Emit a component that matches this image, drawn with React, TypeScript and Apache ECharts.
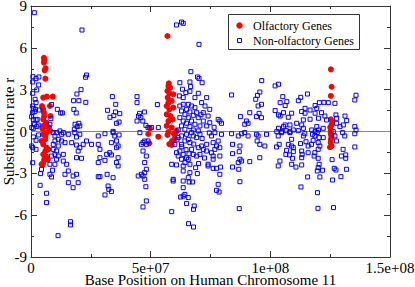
import React, { useEffect, useRef } from "react";
import * as echarts from "echarts";

// Base position in megabases (Mb), substitution rate r
const olfactoryGenes: [number, number][] = [
  [5.4, 5.29], [5.5, 5.13], [5.4, 4.94], [6.1, 4.53], [5.7, 4.39], [6.0, 3.79],
  [5.1, 2.43], [6.6, 2.5], [9.1, 2.5], [4.6, 1.83], [5.1, 1.59], [5.4, 1.35],
  [7.9, 1.83], [8.2, 1.11], [5.1, 0.87], [6.3, 0.63], [5.1, 0.4], [6.5, 0.35],
  [7.5, 0.3], [5.1, -0.2], [6.0, -0.32], [6.5, -0.09], [4.4, -0.68], [6.0, -0.56],
  [5.1, -0.92], [6.5, -1.16], [7.2, -1.28], [6.0, -1.4], [5.1, -1.64], [6.0, -1.88],
  [5.1, -2.24], [4.4, -2.35], [4.9, -2.4], [6.5, -1.81], [5.5, -2.0], [7.0, -2.0],
  [8.0, 0.05], [5.5, 1.1], [4.8, 0.2],
  [57.0, 6.85], [57.6, 3.46], [57.4, 3.26], [58.1, 3.14], [57.0, 2.91], [57.8, 2.74],
  [59.5, 2.67], [57.1, 2.43], [58.8, 2.19], [57.4, 2.07], [56.7, 1.83], [57.8, 1.59],
  [59.5, 1.71], [56.7, 1.23], [58.3, 1.11], [57.4, 0.75], [59.2, 0.87], [56.7, 0.4],
  [58.8, 0.28], [60.8, 0.04], [53.2, -0.37], [49.7, 0.23], [49.0, -0.18], [49.4, -0.85],
  [57.8, -0.9], [60.5, -0.08], [60.1, -0.49], [57.0, -0.25], [57.4, -0.04], [59.7, -0.16],
  [58.9, -0.68], [58.8, -0.97],
  [125.3, 4.46], [125.6, 3.21], [125.3, 2.55], [125.3, 0.88], [125.8, 0.71], [125.6, 0.47],
  [125.3, 0.06], [125.2, -0.13], [125.6, -0.37], [125.3, -0.56], [124.9, -1.13], [125.6, -1.04],
  [125.2, -0.8], [125.0, 0.3], [125.4, -0.25],
];

const nonOlfactoryGenes: [number, number][] = [
  // 0 - 50 Mb, upper half
  [1.4, 8.52], [21.3, 7.28], [23.2, 4.05], [22.8, 3.89], [0.8, 3.93], [2.1, 3.79],
  [3.3, 3.91], [0.7, 3.55], [3.2, 3.34], [2.4, 2.98], [0.7, 2.74], [20.9, 3.0],
  [19.2, 2.69], [34.0, 2.5], [44.3, 2.5], [17.8, 2.21], [20.0, 2.21], [22.9, 2.09],
  [35.4, 1.95], [44.3, 2.07], [1.7, 2.31], [2.1, 2.07], [8.6, 1.93], [17.9, 1.59],
  [18.9, 1.33], [11.0, 1.59], [12.4, 1.33], [13.1, 1.33], [32.0, 1.52], [35.3, 1.4],
  [33.0, 1.02], [34.6, 1.14], [37.1, 1.28], [35.7, 0.59], [36.8, 0.68], [47.4, 1.4],
  [45.4, 1.3], [44.9, 1.11], [45.9, 0.99], [44.3, 0.75], [46.7, 0.75], [0.7, 1.83],
  [0.6, 1.35], [1.9, 1.59], [1.0, 0.87], [2.6, 0.87], [1.5, 0.52], [0.3, 0.28],
  [2.4, 0.35], [18.4, 0.52], [20.0, 0.59], [19.3, 0.35], [20.4, 0.4], [18.1, 0.16],
  [8.3, 0.92], [7.9, 0.52], [12.1, 0.04], [34.3, 0.01], [48.0, 0.44], [48.9, 0.28],
  [0.95, 1.66], [1.6, 1.42], [3.4, 1.54], [0.25, 1.06], [2.1, 0.83], [3.0, 0.47], [0.95, 0.23],
  // 0 - 50 Mb, lower half
  [1.0, -0.39], [3.1, -0.25], [2.1, -0.63], [0.3, -1.04], [0.7, -1.16], [2.1, -1.28],
  [0.7, -2.24], [4.4, -2.71], [4.0, -3.02], [7.9, -3.07], [8.6, -3.26], [9.0, -2.78],
  [3.8, -3.86], [6.5, -4.43], [6.5, -5.1], [16.5, -6.47], [16.5, -6.7], [11.3, -7.47],
  [9.3, -0.08], [10.0, -0.32], [10.7, -0.08], [12.8, -0.2], [13.5, -0.08], [11.4, -0.56],
  [10.0, -0.68], [12.8, -0.68], [14.2, -0.8], [9.3, -0.92], [11.4, -1.04], [9.3, -1.28],
  [10.7, -1.4], [10.0, -1.64], [8.6, -1.76], [11.4, -1.76], [13.5, -1.64], [10.7, -1.99],
  [10.0, -2.35], [7.9, -2.35], [14.9, -2.35], [13.5, -2.12], [15.6, -2.83], [14.2, -3.07],
  [17.6, -3.19], [19.0, -3.07], [19.7, -3.67], [17.6, -4.03], [15.6, -3.67], [18.3, -0.08],
  [15.6, -0.2], [19.0, -0.39], [20.4, -0.2], [17.0, -0.8], [19.0, -0.97], [21.8, -0.92],
  [20.4, -1.16], [19.7, -1.4], [19.0, -1.88], [21.1, -1.92], [23.2, -0.68], [25.3, -0.92],
  [28.1, -0.92], [28.1, -0.32], [30.9, -0.16], [28.8, -1.28], [31.6, -1.64], [33.6, -1.68],
  [32.9, -1.52], [28.8, -1.88], [28.1, -2.23], [30.9, -2.07], [36.4, -1.88], [35.7, -2.23],
  [36.4, -2.47], [28.1, -3.24], [28.8, -3.24], [31.8, -3.07], [34.3, -3.31], [32.2, -3.91],
  [32.5, -4.15], [33.6, -4.31], [30.9, -4.55], [35.7, -1.16], [33.6, -0.8], [35.0, -0.32],
  [36.8, -0.25], [34.3, -0.08], [35.7, -0.68], [36.4, -1.04], [45.5, -0.08], [46.8, -0.8],
  [48.2, -0.92], [47.5, -0.68], [46.1, -0.92], [48.9, -0.68], [46.8, -1.4], [48.2, -1.76],
  [47.5, -2.23], [48.2, -2.71], [47.5, -2.95], [46.8, -3.19], [47.5, -3.43], [44.8, -3.19],
  [46.1, -3.07], [48.2, -4.98], [46.8, -5.41], [48.0, -3.96],
  // 50 - 100 Mb, upper half
  [60.8, 7.64], [62.9, 7.85], [63.6, 7.76], [70.2, 6.25], [66.8, 4.29], [69.6, 3.91],
  [70.2, 3.81], [71.5, 3.5], [62.2, 3.5], [66.4, 3.55], [66.7, 3.22], [66.4, 2.88],
  [63.3, 3.03], [64.7, 2.79], [69.9, 2.74], [68.5, 2.43], [73.4, 2.43], [62.0, 2.55],
  [63.6, 2.43], [83.8, 2.62], [95.6, 2.83], [94.6, 2.59], [93.9, 2.31], [96.3, 1.95],
  [94.9, 1.83], [95.3, 1.3], [94.2, 1.07], [96.3, 0.99], [91.4, 1.35], [87.5, 1.07],
  [90.0, 0.75], [89.3, 0.52], [90.7, 0.59], [78.2, 0.87], [79.6, 0.59], [78.9, 0.75],
  [74.7, 1.59], [74.0, 1.11], [72.0, 1.35], [72.7, 1.83], [71.3, 2.07], [52.8, 1.93],
  [50.4, 0.28], [53.2, 0.28], [96.4, 3.65],
  [62.2, 1.83], [63.6, 1.95], [65.7, 1.95], [67.1, 1.83], [68.5, 1.71], [65.0, 1.59],
  [62.9, 1.47], [66.4, 1.4], [69.2, 1.35], [64.3, 1.23], [67.8, 1.16], [65.7, 0.99],
  [62.2, 0.99], [69.9, 0.99], [63.6, 0.75], [67.1, 0.75], [65.0, 0.59], [68.5, 0.52],
  [62.9, 0.4], [66.4, 0.35], [70.6, 0.4], [64.3, 0.16], [67.8, 0.11], [61.5, 0.11],
  [69.9, 0.04], [72.0, 0.75], [73.4, 0.4], [74.7, 0.63], [71.0, 1.2], [76.5, 0.3],
  // 50 - 100 Mb, lower half
  [60.8, -1.52], [62.2, -1.4], [61.5, -1.76], [62.9, -1.99], [63.6, -1.64], [65.0, -1.88],
  [64.3, -2.23], [66.4, -2.35], [63.6, -2.47], [60.8, -2.4], [58.8, -2.35], [65.7, -2.0],
  [67.8, -1.64], [67.1, -1.28], [69.2, -1.76], [70.6, -1.64], [69.9, -1.16], [71.3, -1.04],
  [72.0, -1.28], [62.9, -0.92], [64.3, -0.68], [65.7, -0.56], [66.4, -0.8], [67.8, -0.32],
  [69.2, -0.44], [70.6, -0.2], [67.1, -0.08], [65.0, -0.2], [62.9, -0.32], [61.5, -0.44],
  [60.1, -0.92], [63.6, -2.83], [66.4, -2.95], [69.5, -3.02], [65.7, -3.31], [59.4, -3.43],
  [59.4, -3.55], [63.6, -3.55], [66.1, -3.62], [67.5, -3.62], [63.6, -4.03], [64.3, -4.51],
  [62.5, -4.7], [65.7, -4.74], [65.0, -5.17], [68.2, -5.34], [67.9, -5.58], [58.8, -5.75],
  [65.8, -6.61], [67.9, -6.85], [63.6, -4.63],
  [73.4, -0.92], [76.1, -0.8], [78.2, -0.68], [77.5, -1.04], [76.8, -1.28], [78.9, -1.16],
  [73.4, -1.4], [75.4, -1.52], [78.9, -1.76], [76.1, -1.99], [74.0, -2.35], [74.0, -2.47],
  [76.1, -2.64], [77.5, -2.64], [79.2, -2.55], [78.9, -3.07], [76.1, -1.76], [75.4, -0.32],
  [76.8, -0.08], [79.6, -0.2], [78.2, -3.79], [77.5, -4.22], [78.6, -4.34],
  [83.8, -0.16], [84.2, -0.92], [84.2, -1.59], [87.3, -1.04], [87.0, -1.45], [87.3, -1.99],
  [88.0, -2.12], [86.6, -2.23], [84.2, -2.55], [86.8, -2.71], [87.3, -3.6], [87.0, -5.53],
  [86.6, -0.32], [89.3, -0.08], [88.0, -0.16], [90.7, -0.32], [91.4, -2.16], [94.2, -0.2],
  [94.9, -0.32], [94.5, -0.68], [95.6, -0.92], [97.7, -1.04], [95.6, -1.88], [98.4, -0.2],
  [61.0, -0.6], [63.0, -1.1], [64.8, -1.3], [66.0, -1.6], [68.0, -0.9], [70.0, -2.3],
  [72.5, -1.9], [68.8, -2.6], [71.5, -0.5], [74.5, -0.1],
  // 100 - 150 Mb, upper half
  [102.0, 3.27], [103.4, 3.39], [105.2, 2.5], [115.5, 2.69], [112.7, 2.45], [111.7, 2.21],
  [135.8, 2.6], [135.3, 2.26], [106.2, 1.86], [106.9, 2.14], [104.1, 2.07], [102.0, 1.5],
  [103.4, 1.19], [105.5, 1.35], [108.9, 1.31], [107.5, 1.02], [104.1, 1.11], [114.5, 1.66],
  [113.1, 1.43], [114.5, 1.31], [116.6, 1.54], [119.4, 1.66], [118.7, 1.31], [121.4, 1.35],
  [122.8, 1.11], [120.1, 0.95], [123.5, 0.83], [116.6, 0.88], [113.8, 0.83], [111.0, 0.59],
  [113.1, 0.47], [108.2, 0.47], [106.2, 0.47], [105.5, 0.35], [103.4, 0.23], [102.7, -0.01],
  [104.8, -0.01], [106.6, 0.06], [108.2, -0.01], [109.6, 0.11], [111.7, 0.06], [113.8, 0.23],
  [117.3, 0.11], [119.4, 0.35], [120.1, 0.11], [118.7, -0.01], [122.1, 0.23], [127.7, 0.95],
  [127.4, 1.19], [131.2, 1.11], [131.9, 0.78], [130.5, 0.47], [127.7, 0.59], [129.1, 0.35],
  [135.3, 0.35], [135.8, 0.11], [126.3, -0.01], [120.5, 2.07], [122.4, 2.09], [124.2, 2.07],
  [127.0, 2.02], [118.7, 1.86],
  // 100 - 150 Mb, lower half
  [103.3, -0.32], [104.7, -0.08], [102.6, -1.11], [103.7, -0.92], [106.5, -1.64], [108.9, -1.04],
  [109.6, -1.16], [107.5, -0.92], [104.0, -2.12], [103.3, -2.47], [108.9, -2.35], [110.7, -2.55],
  [109.3, -1.92], [113.1, -2.4], [113.1, -1.88], [113.1, -1.4], [113.3, -1.64], [112.6, -0.87],
  [114.9, -0.73], [115.8, -1.04], [117.2, -0.92], [117.9, -0.63], [118.6, -0.32], [119.6, -0.08],
  [120.4, -0.44], [122.1, -0.44], [120.0, -0.8], [120.7, -1.04], [120.0, -1.28], [118.6, -1.52],
  [118.3, -1.76], [120.0, -1.92], [120.4, -2.35], [120.0, -2.59], [121.8, -2.78], [119.6, -2.83],
  [120.7, -3.26], [115.6, -3.26], [112.8, -3.98], [119.7, -4.39], [119.9, -5.51], [126.4, -5.46],
  [126.0, -3.48], [129.5, -3.24], [127.4, -2.76], [126.7, -2.64], [131.8, -2.71], [129.7, -1.76],
  [131.5, -1.68], [131.5, -1.92], [125.8, -2.02], [127.6, -0.68], [127.0, -0.32], [130.4, -1.28],
  [131.1, -0.32], [130.2, -0.08], [135.3, -0.16], [135.3, -1.11], [108.2, -0.08], [108.9, -0.56],
  [113.8, -0.32], [114.4, -0.16], [117.6, -0.2], [109.6, -1.45], [108.0, -1.68], [106.8, -1.35],
  [115.8, -1.52],
];

const seriesNames = ["Olfactory Genes", "Non-olfactory Genes"];
const xAxisTitle = "Base Position on Human Chromosome 11";
const yAxisTitle = "Substitution rate r";
const BASES_PER_MB = 1e6;
const xMin = 0;
const xMax = 1.5e8;
const xInterval = 5e7;
const yMin = -9;
const yMax = 9;
const yInterval = 3;

const FONT = "Liberation Serif";

function formatSci(v: number): string {
  if (v === 0) return "0";
  const exp = Math.floor(Math.log10(Math.abs(v)) + 1e-9);
  const mant = Math.round((v / Math.pow(10, exp)) * 100) / 100;
  const e = String(Math.abs(exp)).padStart(2, "0");
  return `${mant}e${exp >= 0 ? "+" : "-"}${e}`;
}

export default function App() {
  const ref = useRef<HTMLDivElement>(null);

  useEffect(() => {
    if (!ref.current) return;
    const chart = echarts.init(ref.current, undefined, { renderer: "svg" });
    const frame = "#333";
    const axisCommon = {
      axisLine: { show: true, onZero: false, lineStyle: { color: frame, width: 1 } },
      axisTick: { show: true, inside: true, length: 6, lineStyle: { color: frame } },
      minorTick: { show: true, splitNumber: 2, length: 3, lineStyle: { color: frame } },
      splitLine: { show: false },
      minorSplitLine: { show: false },
    };
    const toPoints = (arr: [number, number][]) =>
      arr.map(([mb, r]) => [mb * BASES_PER_MB, r]);

    chart.setOption({
      animation: false,
      backgroundColor: "#fff",
      textStyle: { fontFamily: FONT },
      grid: {
        left: 31,
        top: 6,
        width: 359,
        height: 251,
        containLabel: false,
        outerBoundsMode: "none",
      },
      xAxis: [
        {
          type: "value",
          position: "bottom",
          min: xMin,
          max: xMax,
          interval: xInterval,
          ...axisCommon,
          axisLabel: {
            color: "#000",
            fontFamily: FONT,
            fontSize: 15,
            lineHeight: 12,
            margin: 5,
            formatter: (v: number) => formatSci(v),
          },
          name: xAxisTitle,
          nameLocation: "middle",
          nameGap: 17,
          nameMoveOverlap: false,
          nameTextStyle: { color: "#000", fontFamily: FONT, fontSize: 15, lineHeight: 12 },
        },
        {
          type: "value",
          position: "top",
          min: xMin,
          max: xMax,
          interval: xInterval,
          ...axisCommon,
          axisLabel: { show: false },
        },
      ],
      yAxis: [
        {
          type: "value",
          position: "left",
          min: yMin,
          max: yMax,
          interval: yInterval,
          ...axisCommon,
          axisLabel: {
            color: "#000",
            fontFamily: FONT,
            fontSize: 15,
            lineHeight: 12,
            margin: 4,
          },
          name: yAxisTitle,
          nameLocation: "middle",
          nameGap: 15,
          nameMoveOverlap: false,
          nameTextStyle: { color: "#000", fontFamily: FONT, fontSize: 15 },
        },
        {
          type: "value",
          position: "right",
          min: yMin,
          max: yMax,
          interval: yInterval,
          ...axisCommon,
          axisLabel: { show: false },
        },
      ],
      series: [
        {
          name: seriesNames[0],
          type: "scatter",
          xAxisIndex: 0,
          yAxisIndex: 0,
          symbol: "circle",
          symbolSize: 6,
          itemStyle: { color: "#ff0000", opacity: 1 },
          data: toPoints(olfactoryGenes),
          z: 2,
        },
        {
          name: seriesNames[1],
          type: "scatter",
          xAxisIndex: 0,
          yAxisIndex: 0,
          symbol: "rect",
          symbolSize: 4,
          itemStyle: {
            color: "rgba(0,0,0,0)",
            borderColor: "#0000ff",
            borderWidth: 1,
            opacity: 1,
          },
          data: toPoints(nonOlfactoryGenes),
          z: 3,
          markLine: {
            silent: true,
            symbol: ["none", "none"],
            label: { show: false },
            lineStyle: { color: "#888", type: "solid", width: 1 },
            data: [{ yAxis: 0 }],
            z: 1,
          },
        },
      ],
      graphic: [
        {
          type: "rect",
          shape: { x: 228.5, y: 14.5, width: 131, height: 35 },
          style: { fill: "#fff", stroke: "#333", lineWidth: 1 },
          z: 10,
        },
        {
          type: "circle",
          shape: { cx: 239.5, cy: 25.5, r: 3.2 },
          style: { fill: "#ff0000" },
          z: 11,
        },
        {
          type: "rect",
          shape: { x: 237.5, y: 38.5, width: 4, height: 4 },
          style: { fill: "none", stroke: "#0000ff", lineWidth: 1 },
          z: 11,
        },
        {
          type: "text",
          x: 253,
          y: 25.5,
          style: {
            text: seriesNames[0],
            fontFamily: FONT,
            fontSize: 12,
            fill: "#000",
            align: "left",
            verticalAlign: "middle",
          },
          z: 11,
        },
        {
          type: "text",
          x: 253,
          y: 40.5,
          style: {
            text: seriesNames[1],
            fontFamily: FONT,
            fontSize: 12,
            fill: "#000",
            align: "left",
            verticalAlign: "middle",
          },
          z: 11,
        },
      ],
    });

    return () => chart.dispose();
  }, []);

  return (
    <div
      ref={ref}
      style={{ position: "absolute", left: 0, top: 0, width: 415, height: 287 }}
    />
  );
}
